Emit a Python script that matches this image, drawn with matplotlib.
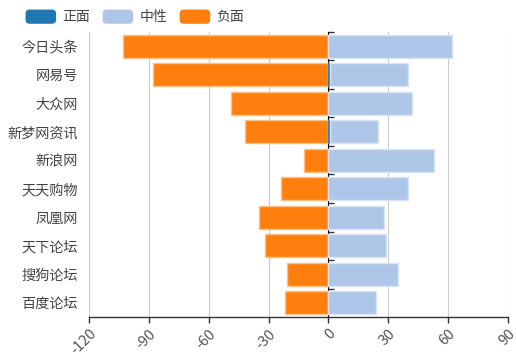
import matplotlib
matplotlib.use("Agg")
import matplotlib.pyplot as plt
from matplotlib.patches import FancyBboxPatch, Patch
from matplotlib.legend_handler import HandlerPatch
from matplotlib.transforms import ScaledTranslation

plt.rcParams['font.family'] = ['Noto Sans CJK SC', 'DejaVu Sans']

categories = ["今日头条", "网易号", "大众网", "新梦网资讯", "新浪网",
              "天天购物", "凤凰网", "天下论坛", "搜狗论坛", "百度论坛"]
positive = [0, 1, 0, 1, 0, 0, 0, 0, 0, 0]
neutral = [62, 39, 42, 24, 53, 40, 28, 29, 35, 24]
negative = [103, 88, 49, 42, 12, 24, 35, 32, 21, 22]
series_names = ["正面", "中性", "负面"]
colors = ["#1f77b4", "#aec7e8", "#ff7f0e"]
edge_colors = ["#8fb8d8", "#d8e4f4", "#ffbf80"]
xticks = [-120, -90, -60, -30, 0, 30, 60, 90]

fig = plt.figure(figsize=(5.16, 3.57), dpi=100)
ax = fig.add_axes([89/516, 40/357, 419/516, 285/357])

y = list(range(len(categories)))
h = 0.82
ax.barh(y, [-v for v in negative], height=h, color=colors[2],
        edgecolor=edge_colors[2], linewidth=1, zorder=3)
ax.barh(y, positive, height=h, color=colors[0],
        edgecolor=colors[0], linewidth=0.5, zorder=3)
ax.barh(y, neutral, left=positive, height=h, color=colors[1],
        edgecolor=edge_colors[1], linewidth=1, zorder=3)

ax.set_xlim(xticks[0], xticks[-1])
ax.set_ylim(len(categories) - 0.5, -0.5)
ax.set_xticks(xticks)
ax.set_xticklabels([str(t) for t in xticks], rotation=45, ha='right',
                   va='top', rotation_mode='anchor', color='#555555', fontsize=10.5)
offset = ScaledTranslation(-2/100, 0, fig.dpi_scale_trans)
for lbl in ax.get_xticklabels():
    lbl.set_transform(lbl.get_transform() + offset)
ax.set_yticks(y)
ax.set_yticklabels(categories, fontsize=10.2, color='#444444')
ax.tick_params(axis='y', length=0, pad=8)
ax.tick_params(axis='x', length=4, color='#333333', width=1, pad=3)
ax.grid(axis='x', color='#cccccc', linewidth=0.8, zorder=0)
ax.set_axisbelow(True)
for s in ['left', 'right', 'top']:
    ax.spines[s].set_visible(False)
ax.spines['bottom'].set_color('#333333')
ax.spines['bottom'].set_linewidth(1)

# zero axis with category boundary ticks
zero_loc = (0 - xticks[0]) / (xticks[-1] - xticks[0])
sec = ax.secondary_yaxis(zero_loc)
sec.set_yticks([i - 0.5 for i in range(len(categories))])
sec.set_yticklabels([])
sec.tick_params(length=4, color='#333333', width=1)
sec.spines['left'].set_color('#333333')
sec.spines['left'].set_linewidth(1)
sec.set_zorder(2)


class RoundHandler(HandlerPatch):
    def create_artists(self, legend, orig_handle, xdescent, ydescent,
                       width, height, fontsize, trans):
        p = FancyBboxPatch((-xdescent, -ydescent), width, height,
                           boxstyle="round,pad=0,rounding_size=3",
                           facecolor=orig_handle.get_facecolor(),
                           edgecolor='none', transform=trans)
        return [p]


handles = [Patch(facecolor=c) for c in colors]
fig.legend(handles, series_names, loc='upper left',
           bbox_to_anchor=(20/516, 1 - 4/357), ncol=3, frameon=False,
           fontsize=10, handlelength=2.2, handleheight=1.2,
           handletextpad=0.45, columnspacing=0.9, borderaxespad=0,
           labelcolor='#444444',
           handler_map={Patch: RoundHandler()})

fig.savefig("out.png", dpi=100)
